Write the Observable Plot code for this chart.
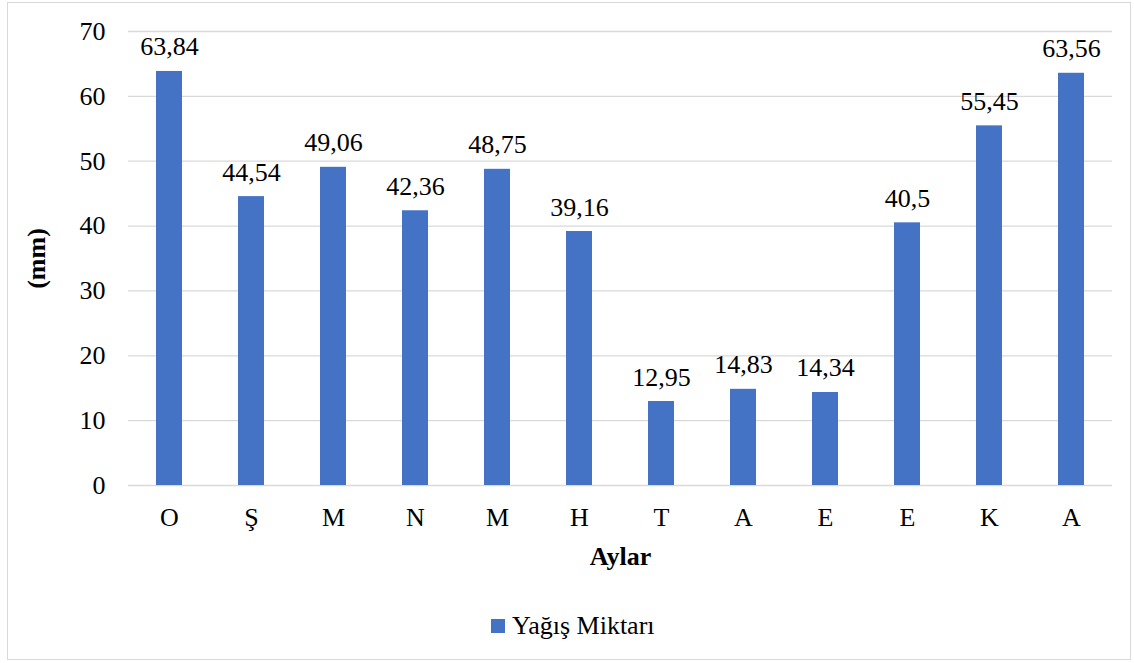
<!DOCTYPE html>
<html><head><meta charset="utf-8">
<script src="https://cdn.jsdelivr.net/npm/d3@7"></script>
<script src="https://cdn.jsdelivr.net/npm/@observablehq/plot@0.6"></script>
<style>
body{margin:0;background:#fff;}
#wrap{position:relative;width:1134px;height:663px;font-family:"Liberation Serif","Times New Roman",serif;color:#000;overflow:hidden}
#frame{position:absolute;left:7px;top:2px;width:1122px;height:656px;border:1px solid #d9d9d9;pointer-events:none}
#chart{position:absolute;left:0;top:0}
#legend{position:absolute;left:0;top:600px;width:1134px;height:63px}
#legend .sw{position:absolute;left:491px;top:19px;width:14px;height:14px;background:#4472C4}
#legend .tx{position:absolute;left:512px;top:13px;font-size:26px;line-height:1;white-space:nowrap;color:#000;font-family:"Liberation Serif","Times New Roman",serif}
svg text{font-family:"Liberation Serif","Times New Roman",serif}
[aria-label="x-axis label"] text,[aria-label="y-axis label"] text{font-weight:bold}
</style>
</head><body>
<div id="wrap"><div id="chart"></div><div id="legend"><div class="sw"></div><div class="tx">Yağış Miktarı</div></div><div id="frame"></div></div>
<script>
const months = ["O","Ş","M","N","M","H","T","A","E","E","K","A"];
const values = [63.84,44.54,49.06,42.36,48.75,39.16,12.95,14.83,14.34,40.5,55.45,63.56];
const yTicks = [0,10,20,30,40,50,60,70];
const seriesName = "Yağış Miktarı";

const data = months.map((m, i) => ({i, m, v: values[i], label: String(values[i]).replace(".", ",")}));

const chart = Plot.plot({
  width: 1134,
  height: 600,
  marginLeft: 128,
  marginRight: 22,
  marginTop: 31,
  marginBottom: 115,
  style: {fontSize: "26px", fontFamily: "Liberation Serif, Times New Roman, serif", color: "#000", background: "transparent"},
  x: {domain: d3.range(months.length), padding: 0},
  y: {domain: [0, 70]},
  marks: [
    Plot.ruleY(yTicks, {stroke: "#d9d9d9", strokeWidth: 1.3}),
    Plot.barY(data, {x: "i", y: "v", fill: "#4472C4", insetLeft: 28, insetRight: 28}),
    Plot.text(data, {x: "i", y: "v", text: "label", lineAnchor: "bottom", dy: -16, fontSize: 26, fill: "#000"}),
    Plot.axisY(yTicks, {tickSize: 0, tickPadding: 23, fontSize: 26, label: "(mm)", labelAnchor: "center", labelOffset: 102, labelArrow: "none"}),
    Plot.axisX({tickSize: 0, tickPadding: 22, fontSize: 26, tickFormat: i => months[i], label: "Aylar", labelAnchor: "center", labelOffset: 79, labelArrow: "none"})
  ]
});
document.getElementById("chart").appendChild(chart);
</script>
</body></html>
